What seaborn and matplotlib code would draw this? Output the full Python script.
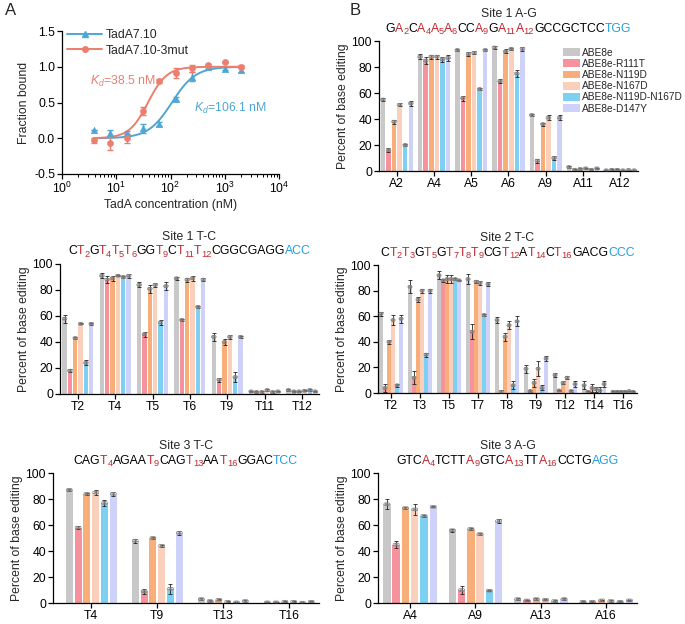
import re
import numpy as np
import pandas as pd
import matplotlib
matplotlib.use('Agg')
import matplotlib.pyplot as plt
import matplotlib.ticker as ticker
import matplotlib.transforms as mtransforms
import seaborn as sns
from matplotlib.lines import Line2D
from matplotlib.patches import Patch

''' Panel A: binding curves '''
conc = [3.9, 7.8, 15.6, 31.25, 62.5, 125, 250, 500, 1000, 2000]
wt_mean = [0.11, 0.07, 0.08, 0.14, 0.20, 0.55, 0.86, 0.99, 0.97, 0.96]
wt_err = [0.0, 0.05, 0.02, 0.06, 0.03, 0.03, 0.06, 0.02, 0.02, 0.03]
mut_mean = [-0.03, -0.07, 0.0, 0.38, 0.80, 0.91, 0.98, 1.02, 1.07, 1.00]
mut_err = [0.03, 0.10, 0.06, 0.06, 0.03, 0.07, 0.05, 0.02, 0.0, 0.02]
kd_wt, hill_wt = 106.1, 2.0
kd_mut, hill_mut = 38.5, 2.5

''' Panel B: base editing '''
editors = ['ABE8e', 'ABE8e-R111T', 'ABE8e-N119D', 'ABE8e-N167D', 'ABE8e-N119D-N167D', 'ABE8e-D147Y']
colors = ['#c8c8c8', '#f5929d', '#f8ae78', '#fad0bd', '#7dd0f2', '#cfd2f8']

s1ag_pos = ['A2', 'A4', 'A5', 'A6', 'A9', 'A11', 'A12']
s1ag_mean = [[55, 16, 38, 51, 20, 52],
             [88, 85, 88, 88, 86, 87],
             [93, 56, 90, 91, 63, 93],
             [95, 69, 92, 94, 75, 94],
             [43, 8, 36, 41, 10, 41],
             [3, 1, 1.5, 2, 1, 2],
             [0.5, 1, 1, 0.5, 0.8, 0.5]]
s1ag_err = [[1, 1.5, 1.5, 1, 1, 2],
            [2, 3, 1.5, 1.5, 2, 2],
            [1, 2, 1.5, 1, 1, 0.5],
            [1.5, 1.5, 1.5, 1, 2.5, 1.5],
            [0.5, 1.5, 1, 2, 1.5, 2],
            [0.5, 0.3, 0.5, 0.5, 0.3, 0.5],
            [0.3, 0.3, 0.3, 0.3, 0.3, 0.3]]

s1tc_pos = ['T2', 'T4', 'T5', 'T6', 'T9', 'T11', 'T12']
s1tc_mean = [[58, 18, 43, 54, 24, 54],
             [91, 88, 89, 91, 90, 91],
             [84, 46, 81, 84, 55, 83],
             [89, 57, 88, 89, 67, 88],
             [44, 11, 40, 44, 13, 44],
             [2, 1.5, 1.5, 3, 1.5, 2],
             [3, 2, 2, 2.5, 3, 2]]
s1tc_err = [[3, 1, 1, 0.5, 2, 1],
            [2, 3, 2, 0.5, 1, 1.5],
            [2, 2, 3, 1.5, 2, 3],
            [1, 0.5, 1.5, 2, 0.5, 1],
            [3, 1.5, 2, 1.5, 4, 1],
            [0.5, 0.5, 0.5, 0.5, 0.5, 0.5],
            [0.5, 0.5, 0.5, 0.5, 0.5, 0.5]]

s2tc_pos = ['T2', 'T3', 'T5', 'T7', 'T8', 'T9', 'T12', 'T14', 'T16']
s2tc_mean = [[62, 4, 40, 57, 6, 58],
             [83, 12, 73, 80, 30, 80],
             [92, 88, 89, 89, 89, 88],
             [89, 48, 87, 86, 61, 85],
             [57, 1, 44, 53, 6, 56],
             [19, 1.5, 8, 19, 4, 27],
             [14, 2, 8, 12, 1.5, 7],
             [6, 1, 4, 3, 2, 7],
             [1, 1, 1, 1, 1.5, 1]]
s2tc_err = [[1.5, 3, 1.5, 4, 1, 3],
            [5, 5, 2, 1.5, 1.5, 1.5],
            [3, 1, 3, 3, 1, 0.5],
            [4, 6, 1, 1.5, 0.5, 1.5],
            [2, 1, 3, 3, 3, 4],
            [3, 0.5, 3, 6, 2, 2],
            [1.5, 0.5, 1, 1, 0.5, 2],
            [3, 0.5, 3, 2, 3, 2],
            [0.3, 0.3, 0.3, 0.3, 0.3, 0.3]]

s3tc_pos = ['T4', 'T9', 'T13', 'T16']
s3tc_mean = [[87, 58, 84, 85, 77, 84],
             [48, 9, 50, 44, 11, 54],
             [3, 1.5, 2.5, 1, 0.5, 1.5],
             [0.5, 0.5, 1, 1, 0.3, 1]]
s3tc_err = [[1, 1, 1, 2, 2, 1.5],
            [1.5, 2, 1, 1, 4, 1.5],
            [0.5, 0.5, 0.5, 0.5, 0.5, 0.5],
            [0.3, 0.3, 0.3, 0.3, 0.3, 0.3]]

s3ag_pos = ['A4', 'A9', 'A13', 'A16']
s3ag_mean = [[76, 45, 73, 72, 67, 74],
             [56, 10, 57, 53, 9.5, 63],
             [3, 2, 3, 2.5, 1.5, 3],
             [1, 1, 2, 1.5, 1, 2]]
s3ag_err = [[4, 3, 1, 4, 1, 0.5],
            [1, 3, 1, 1, 0.5, 1.5],
            [0.5, 0.5, 0.5, 0.5, 0.5, 0.5],
            [0.5, 0.5, 0.5, 0.5, 0.5, 0.5]]

# [edited base] in red, after | is PAM in blue
s1ag_seq = 'G[A2]C[A4][A5][A6]CC[A9]G[A11][A12]GCCGCTCC|TGG'
s1tc_seq = 'C[T2]G[T4][T5][T6]GG[T9]C[T11][T12]CGGCGAGG|ACC'
s2tc_seq = 'C[T2][T3]G[T5]G[T7][T8][T9]CG[T12]A[T14]C[T16]GACG|CCC'
s3tc_seq = 'CAG[T4]AGAA[T9]CAG[T13]AA[T16]GGAC|TCC'
s3ag_seq = 'GTC[A4]TCTT[A9]GTC[A13]TT[A16]CCTG|AGG'

SEQ_RED = '#c1272d'
SEQ_BLUE = '#1e9fe0'
BLUE = '#4fa6d4'
RED = '#ec7e6e'

sns.set_theme(style='ticks')
plt.rcParams['font.family'] = ['Liberation Sans', 'DejaVu Sans']
plt.rcParams['mathtext.fontset'] = 'custom'
plt.rcParams['mathtext.rm'] = 'Liberation Sans'
plt.rcParams['mathtext.it'] = 'Liberation Sans:italic'
plt.rcParams['mathtext.default'] = 'regular'
plt.rcParams['axes.unicode_minus'] = False
plt.rcParams['axes.linewidth'] = 0.9
plt.rcParams['axes.edgecolor'] = 'black'
plt.rcParams['xtick.major.width'] = 0.9
plt.rcParams['ytick.major.width'] = 0.9
plt.rcParams['xtick.color'] = 'black'
plt.rcParams['ytick.color'] = 'black'

FS = 8.8

fig = plt.figure(figsize=(6.85, 6.24), dpi=100)
W, H = 685.0, 624.0
renderer = fig.canvas.get_renderer()


def px_axes(left, top, right, bottom):
    return fig.add_axes([left / W, 1 - bottom / H, (right - left) / W, (bottom - top) / H])


def hill(x, kd, n):
    return x ** n / (kd ** n + x ** n)


def draw_seq(ax, seq, y):
    ''' colored sequence, pieces laid out one after another and centred '''
    main, pam = seq.split('|')
    pieces = []
    for p in re.split(r'(\[[A-Z]\d+\])', main):
        if not p:
            continue
        if p.startswith('['):
            pieces.append((p[1], SEQ_RED, False))
            pieces.append((p[2:-1], SEQ_RED, True))
        else:
            pieces.append((p, 'black', False))
    pieces.append((pam, SEQ_BLUE, False))

    texts, offs = [], []
    cum = 0.0
    for txt, col, sub in pieces:
        t = ax.text(0.5, y, txt, color=col, fontsize=FS * 0.76 if sub else FS, ha='left', va='baseline',
                    transform=ax.transAxes, clip_on=False)
        w = t.get_window_extent(renderer).width
        texts.append((t, sub))
        offs.append(cum)
        cum += w
    for (t, sub), off in zip(texts, offs):
        t.set_transform(mtransforms.offset_copy(ax.transAxes, fig=fig, x=off - cum / 2,
                                                y=-2.6 if sub else 0, units='dots'))


def bar_panel(ax, positions, means, errs, title, seq, xlim, width):
    df = pd.DataFrame([(p, e, means[i][j]) for i, p in enumerate(positions) for j, e in enumerate(editors)],
                      columns=['pos', 'editor', 'val'])
    sns.barplot(data=df, x='pos', y='val', hue='editor', order=positions, hue_order=editors,
                palette=colors, saturation=1, width=width, gap=0.2, errorbar=None, legend=False,
                linewidth=0, ax=ax)
    bar_conts = list(ax.containers)
    for j, cont in enumerate(bar_conts):
        for i, bar in enumerate(cont):
            xc = bar.get_x() + bar.get_width() / 2
            m = means[i][j]
            ax.errorbar(xc, m, yerr=errs[i][j], fmt='none', ecolor='#222222', elinewidth=0.6,
                        capsize=1.2, capthick=0.6, zorder=3)
            d = bar.get_width() * 0.22
            ax.scatter([xc - d, xc, xc + d], [m, m, m], s=4, facecolor='none', edgecolor='#808080',
                       linewidth=0.5, zorder=4)
    ax.set_xlim(*xlim)
    ax.set_ylim(0, 100)
    ax.set_yticks(range(0, 101, 20))
    ax.set_xlabel('')
    ax.set_ylabel('Percent of base editing', fontsize=FS, labelpad=2)
    ax.tick_params(axis='both', labelsize=FS, length=3.5, pad=1.5)
    sns.despine(ax=ax)
    bbox_h = ax.get_position().height * H
    ax.text(0.5, 1 + 27 / bbox_h, title, transform=ax.transAxes, ha='center', va='center', fontsize=FS)
    draw_seq(ax, seq, 1 + 9.5 / bbox_h)


''' Panel A '''
axA = px_axes(62, 31, 279, 174)
axA.set_xscale('log')
xs = np.logspace(np.log10(conc[0]), np.log10(conc[-1]), 200)
sns.lineplot(x=xs, y=hill(xs, kd_wt, hill_wt), color=BLUE, lw=1.4, ax=axA)
axA.errorbar(conc, wt_mean, yerr=wt_err, fmt='none', ecolor=BLUE, elinewidth=1, capsize=2.5, capthick=1)
sns.scatterplot(x=conc, y=wt_mean, marker='^', color=BLUE, s=22, edgecolor=BLUE, ax=axA, zorder=3)
sns.lineplot(x=xs, y=hill(xs, kd_mut, hill_mut), color=RED, lw=1.4, ax=axA)
axA.errorbar(conc, mut_mean, yerr=mut_err, fmt='none', ecolor=RED, elinewidth=1, capsize=2.5, capthick=1)
sns.scatterplot(x=conc, y=mut_mean, marker='o', color=RED, s=20, edgecolor=RED, ax=axA, zorder=3)

axA.set_xlim(1, 1e4)
axA.set_ylim(-0.5, 1.5)
axA.set_yticks([-0.5, 0.0, 0.5, 1.0, 1.5])
axA.yaxis.set_major_formatter(ticker.FormatStrFormatter('%.1f'))
axA.xaxis.set_major_locator(ticker.LogLocator(base=10, numticks=10))
axA.xaxis.set_minor_locator(ticker.LogLocator(base=10, subs=np.arange(2, 10), numticks=20))
axA.tick_params(axis='both', which='major', labelsize=FS, length=3.5, pad=1.5)
axA.tick_params(axis='x', which='minor', length=2.2, width=0.7)
axA.set_xlabel('TadA concentration (nM)', fontsize=FS, labelpad=2)
axA.set_ylabel('Fraction bound', fontsize=FS, labelpad=3)
sns.despine(ax=axA)

axA.text(3.3, 0.80, r'$\mathit{K_d}$=38.5 nM', color=RED, fontsize=FS, ha='left', va='center')
axA.text(272, 0.41, r'$\mathit{K_d}$=106.1 nM', color=BLUE, fontsize=FS, ha='left', va='center')

handles = [Line2D([], [], color=BLUE, marker='^', ms=4, lw=1.4),
           Line2D([], [], color=RED, marker='o', ms=4, lw=1.4)]
axA.legend(handles, ['TadA7.10', 'TadA7.10-3mut'], loc='upper left', bbox_to_anchor=(0.025, 1.015),
           frameon=False, fontsize=FS, handlelength=2.8, handletextpad=0.3, labelspacing=0.3,
           borderpad=0, borderaxespad=0)

''' Panel B '''
ax1 = px_axes(379, 41, 638, 171)
bar_panel(ax1, s1ag_pos, s1ag_mean, s1ag_err, 'Site 1 A-G', s1ag_seq, (-0.48, 6.48), 0.9)
leg_handles = [Patch(facecolor=c, edgecolor='none') for c in colors]
ax1.legend(leg_handles, editors, loc='upper left', bbox_to_anchor=(0.71, 0.95), frameon=False,
           fontsize=7.3, handlelength=1.7, handleheight=0.8, handletextpad=0.15, labelspacing=0.12,
           borderpad=0, borderaxespad=0)

ax2 = px_axes(60, 264, 319, 394)
bar_panel(ax2, s1tc_pos, s1tc_mean, s1tc_err, 'Site 1 T-C', s1tc_seq, (-0.48, 6.46), 0.86)

ax3 = px_axes(378, 265, 637, 393)
bar_panel(ax3, s2tc_pos, s2tc_mean, s2tc_err, 'Site 2 T-C', s2tc_seq, (-0.45, 8.48), 0.83)

ax4 = px_axes(53, 473, 319, 603)
bar_panel(ax4, s3tc_pos, s3tc_mean, s3tc_err, 'Site 3 T-C', s3tc_seq, (-0.58, 3.45), 0.8)

ax5 = px_axes(378, 473, 637, 603)
bar_panel(ax5, s3ag_pos, s3ag_mean, s3ag_err, 'Site 3 A-G', s3ag_seq, (-0.49, 3.47), 0.85)

fig.text(5 / W, 1 - 3 / H, 'A', fontsize=12, ha='left', va='top')
fig.text(350 / W, 1 - 3 / H, 'B', fontsize=12, ha='left', va='top')

plt.savefig('out.png', dpi=100)
